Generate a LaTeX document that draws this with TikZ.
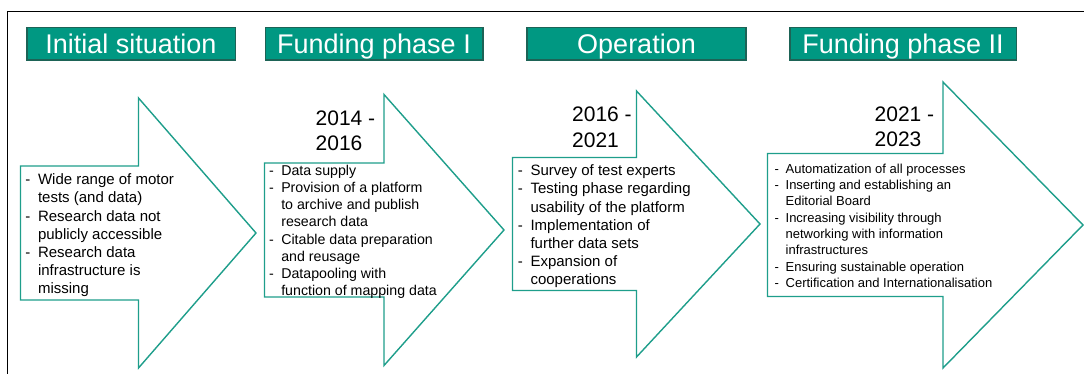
\documentclass[tikz,border=0pt]{standalone}
\usepackage{fontspec}
\setmainfont{Liberation Sans}
\usepackage{tikz}

\definecolor{phasegreen}{HTML}{009882}
\definecolor{phaseedge}{HTML}{1D6356}
\definecolor{stageline}{HTML}{1E9E8B}

\newcommand{\itm}[1]{\strut\makebox[0.85em][l]{-}#1}
\newcommand{\nxt}[1]{\hspace*{0.85em}#1}

\begin{document}
\begin{tikzpicture}[x=1pt, y=-1pt, every node/.style={inner sep=0pt},
    phase/.style={draw=phaseedge, line width=1.5pt, fill=phasegreen, text=white,
      minimum height=32.5pt, text height=19.3pt, text depth=0.7pt,
      font=\fontsize{27}{32}\selectfont},
    stage/.style={draw=stageline, line width=1.4pt, fill=white},
    years/.style={anchor=north west, align=left, font=\fontsize{21}{25.3}\selectfont},
    items/.style={anchor=north west, align=left}]
      \useasboundingbox (0,0) rectangle (1084,374);
      \draw[line width=1pt] (7,374) -- (7,12) -- (1084,12);

      \node[phase, minimum width=208.5pt] (init) at (131,44) {Initial situation};
      \node[phase, minimum width=217.5pt] (fund1) at (374,44) {Funding phase I};
      \node[phase, minimum width=219pt] (oper) at (636.5,44) {Operation};
      \node[phase, minimum width=226.5pt] (fund2) at (903,44) {Funding phase II};

      \foreach \x/\y/\s/\b/\h/\t in {20.5/233/67/138.5/135/256, 264.5/230/67/384/135.5/504,
          512.5/224/66.5/636.5/133/760, 767.5/225/71.5/943/143/1083}
        \draw[stage] (\x,\y-\s) -- (\b,\y-\s) -- (\b,\y-\h) -- (\t,\y)
          -- (\b,\y+\h) -- (\b,\y+\s) -- (\x,\y+\s) -- cycle;

      \node[years] (y1) at (315.5,107.1) {\strut 2014 -\\2016};
      \node[years] (y2) at (572,103.8) {\strut 2016 -\\2021};
      \node[years] (y3) at (874.5,103.1) {\strut 2021 -\\2023};

      \node[items, font=\fontsize{15}{18.2}\selectfont] (initlist) at (25.1,171.8)
        {\itm{Wide range of motor}\\ \nxt{tests (and data)}\\
         \itm{Research data not}\\ \nxt{publicly accessible}\\
         \itm{Research data}\\ \nxt{infrastructure is}\\ \nxt{missing}};
      \node[items, font=\fontsize{14.2}{17.2}\selectfont] (fund1list) at (269,163)
        {\itm{Data supply}\\
         \itm{Provision of a platform}\\ \nxt{to archive and publish}\\ \nxt{research data}\\
         \itm{Citable data preparation}\\ \nxt{and reusage}\\
         \itm{Datapooling with}\\ \nxt{function of mapping data}};
      \node[items, font=\fontsize{15}{18.2}\selectfont] (operlist) at (517.6,162.7)
        {\itm{Survey of test experts}\\
         \itm{Testing phase regarding}\\ \nxt{usability of the platform}\\
         \itm{Implementation of}\\ \nxt{further data sets}\\
         \itm{Expansion of}\\ \nxt{cooperations}};
      \node[items, font=\fontsize{13}{16.3}\selectfont] (fund2list) at (774.4,161.6)
        {\itm{Automatization of all processes}\\
         \itm{Inserting and establishing an}\\ \nxt{Editorial Board}\\
         \itm{Increasing visibility through}\\ \nxt{networking with information}\\ \nxt{infrastructures}\\
         \itm{Ensuring sustainable operation}\\
         \itm{Certification and Internationalisation}};
    \end{tikzpicture}
\end{document}
